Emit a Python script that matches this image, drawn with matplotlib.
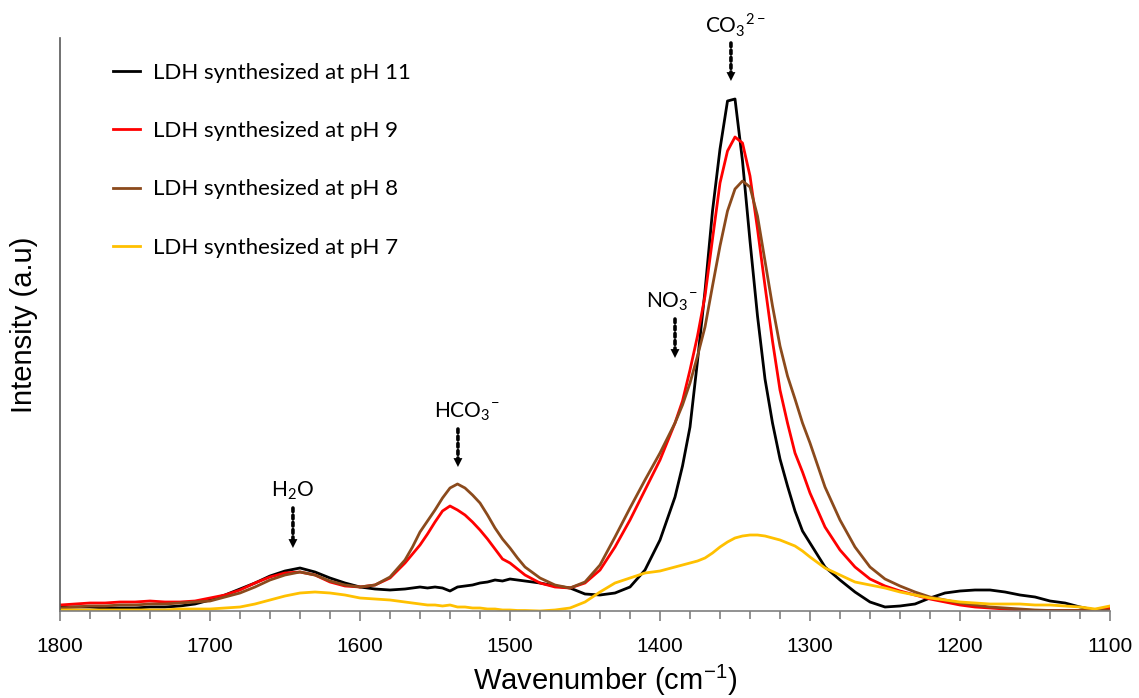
import matplotlib
matplotlib.use("Agg")
import matplotlib.pyplot as plt
from matplotlib.ticker import MultipleLocator

# --- DATA (intensity in arbitrary units) ---
wavenumber = [1800, 1790, 1780, 1770, 1760, 1750, 1740, 1730, 1720, 1710, 1700, 1690,
              1680, 1670, 1660, 1650, 1640, 1630, 1620, 1610, 1600, 1590, 1580, 1570,
              1565, 1560, 1555, 1550, 1545, 1540, 1535, 1530, 1525, 1520, 1515, 1510,
              1505, 1500, 1495, 1490,
              1480, 1470, 1460, 1450, 1440, 1430, 1420, 1410, 1400, 1390,
              1385, 1380, 1375, 1370, 1365, 1360, 1355, 1350, 1345, 1340, 1335, 1330,
              1325, 1320, 1315, 1310, 1305,
              1300, 1290, 1280, 1270, 1260, 1250, 1240, 1230, 1220, 1210, 1200, 1190,
              1180, 1170, 1160, 1150, 1140, 1130, 1120, 1110, 1100]

ph11 = [4, 4, 4, 3, 3, 3, 4, 4, 5, 7, 11, 16, 22, 28, 35, 40, 43, 39, 33, 28, 24, 22, 21, 22,
        23, 24, 23, 24, 23, 20, 24, 25, 26, 28, 29, 31, 30, 32, 31, 30,
        28, 25, 23, 17, 16, 18, 24, 41, 71, 114,
        145, 184, 250, 320, 400, 462, 510, 512, 450, 370, 295, 232, 188, 152, 125, 100, 80,
        68, 44, 31, 19, 9, 4, 5, 7, 13, 18, 20, 21, 21, 19, 16, 14, 10, 8, 4, 1, 0]

ph9 = [6, 7, 8, 8, 9, 9, 10, 9, 9, 10, 13, 16, 21, 28, 34, 38, 39, 36, 29, 25, 24, 26, 33, 48,
       57, 66, 77, 89, 100, 105, 101, 96, 89, 81, 72, 62, 52, 48, 42, 36,
       28, 24, 23, 28, 41, 64, 91, 121, 151, 188,
       210, 241, 275, 315, 372, 428, 460, 474, 468, 435, 382, 325, 270, 221, 188, 158, 139,
       118, 84, 61, 44, 32, 25, 20, 16, 12, 9, 6, 4, 3, 2, 1, 0.5, 0.5, 0.5, 0.5, 1, 3]

ph8 = [3, 4, 5, 5, 6, 6, 7, 7, 8, 9, 10, 14, 18, 24, 31, 36, 39, 36, 30, 26, 24, 26, 34, 51,
       64, 79, 90, 101, 113, 123, 127, 123, 116, 108, 96, 83, 72, 63, 53, 44,
       33, 26, 23, 29, 46, 74, 103, 131, 158, 188,
       206, 228, 255, 284, 325, 365, 400, 422, 430, 424, 395, 350, 305, 265, 235, 212, 188,
       168, 124, 91, 64, 44, 32, 25, 19, 14, 11, 8, 6, 4, 3, 2, 1, 0.5, 0.5, 0.5, 0.5, 1]

ph7 = [1, 1, 1, 1, 1, 1, 1, 1, 2, 2, 2, 3, 4, 7, 11, 15, 18, 19, 18, 16, 13, 12, 11, 9,
       8, 7, 6, 6, 5, 6, 4, 4, 3, 3, 2, 2, 1, 1, 0.5, 0.5,
       0, 1, 3, 9, 19, 28, 33, 38, 40, 44,
       46, 48, 50, 53, 58, 64, 69, 73, 75, 76, 76, 75, 73, 71, 68, 65, 60,
       54, 43, 36, 29, 26, 23, 19, 16, 13, 11, 9, 8, 7, 7, 7, 6, 6, 5, 4, 2, 5]

series = [ph11, ph9, ph8, ph7]
labels = ["LDH synthesized at pH 11", "LDH synthesized at pH 9",
          "LDH synthesized at pH 8", "LDH synthesized at pH 7"]
colors = ["#000000", "#FF0000", "#8B4A1C", "#FFC000"]

# peak labels: text, arrow position, text position, arrow start / tip heights
peak_text = [r"CO$_\mathregular{3}$$^\mathregular{2-}$", r"NO$_\mathregular{3}$$^\mathregular{-}$",
             r"HCO$_\mathregular{3}$$^\mathregular{-}$", r"H$_\mathregular{2}$O"]
peak_wn = [1352.7, 1390, 1534.7, 1644.7]
text_wn = [1350, 1392, 1528.7, 1644.7]
peak_text_y = [586, 309, 199, 120]
arrow_top = [568, 292, 182, 103]
arrow_tip = [530, 253, 144, 63]

TEXT_FONT = ["Lato", "DejaVu Sans"]
NARROW_FONT = ["Liberation Sans Narrow", "Liberation Sans", "DejaVu Sans"]

fig = plt.figure(figsize=(11.39, 6.98), dpi=100)
ax = fig.add_axes([60 / 1139, 87 / 698, 1050 / 1139, 573 / 698])

for y, lab, col in zip(series, labels, colors):
    ax.plot(wavenumber, y, color=col, lw=2, label=lab)

ax.set_xlim(1800, 1100)
ax.set_ylim(0, 573)

# axes styling
for side in ["top", "right"]:
    ax.spines[side].set_visible(False)
ax.spines["left"].set_color("#595959")
ax.spines["bottom"].set_color("#7f7f7f")
ax.spines["left"].set_linewidth(1.2)
ax.spines["bottom"].set_linewidth(1.2)
ax.set_yticks([])
ax.xaxis.set_major_locator(MultipleLocator(100))
ax.xaxis.set_minor_locator(MultipleLocator(20))
ax.tick_params(axis="x", which="both", direction="out", color="#7f7f7f", width=1.2)
ax.tick_params(axis="x", which="major", length=7, pad=12, labelsize=15)
ax.tick_params(axis="x", which="minor", length=6)
for t in ax.get_xticklabels():
    t.set_family(NARROW_FONT)

ax.set_xlabel(r"Wavenumber (cm$^\mathregular{-1}$)", fontsize=21, family=NARROW_FONT)
ax.xaxis.set_label_coords(545 / 1050, -52 / 573)
ax.set_ylabel("Intensity (a.u)", fontsize=21, family=NARROW_FONT)
ax.yaxis.set_label_coords(-22 / 1050, 0.5)

# peak annotations with dotted arrows
for txt, wn, twn, ty, a0, a1 in zip(peak_text, peak_wn, text_wn, peak_text_y, arrow_top, arrow_tip):
    ax.text(twn, ty, txt, ha="center", va="center", fontsize=15, family=TEXT_FONT, clip_on=False)
    ax.annotate("", xy=(wn, a1 + 8), xytext=(wn, a0),
                arrowprops=dict(arrowstyle="-", linestyle=(0, (1, 1)), lw=2.6, color="black",
                                shrinkA=0, shrinkB=0))
    ax.annotate("", xy=(wn, a1), xytext=(wn, a1 + 9),
                arrowprops=dict(arrowstyle="-|>", mutation_scale=16, lw=0, color="black",
                                shrinkA=0, shrinkB=0))

leg = ax.legend(loc="upper left", bbox_to_anchor=(53 / 1050, 1 - 25 / 573), frameon=False,
                handlelength=1.2, handletextpad=0.58, labelspacing=1.72, borderpad=0,
                borderaxespad=0, prop={"family": TEXT_FONT, "size": 16})

fig.savefig("out.png", dpi=100)
